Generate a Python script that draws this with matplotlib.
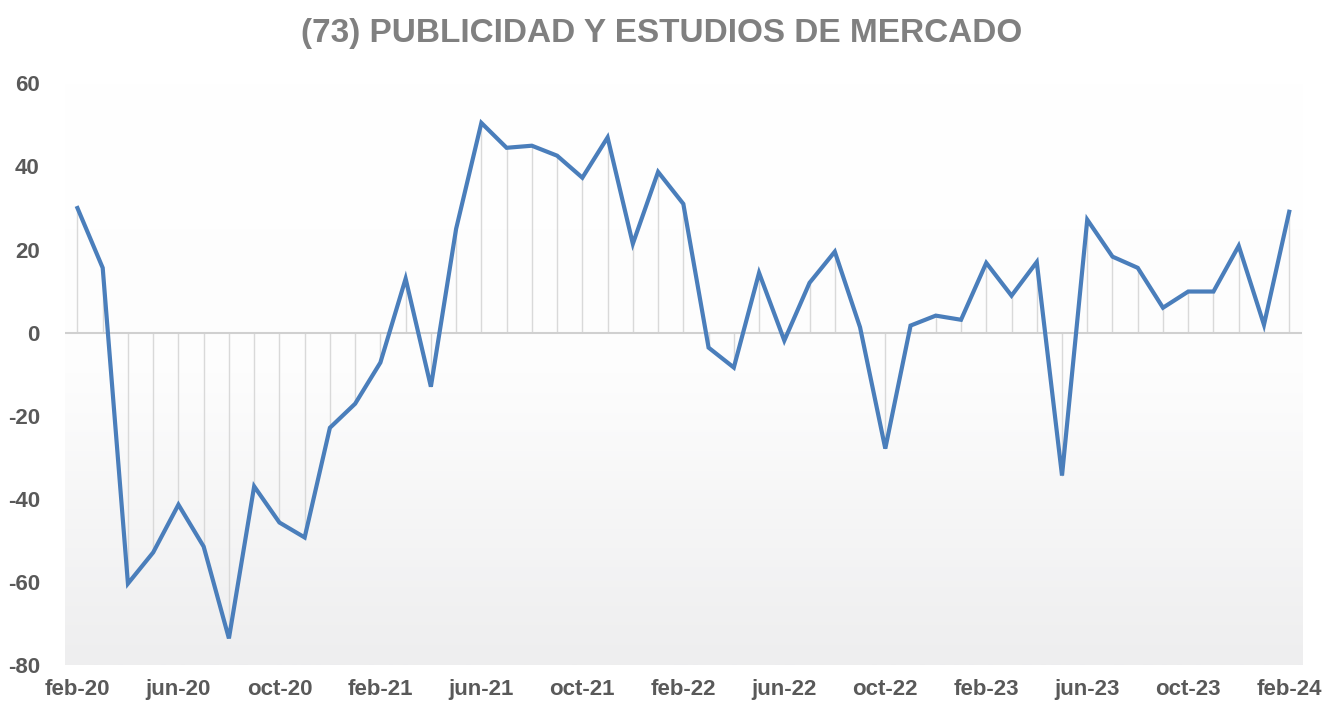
import matplotlib.pyplot as plt
import numpy as np

meses = ['ene', 'feb', 'mar', 'abr', 'may', 'jun', 'jul', 'ago', 'sep', 'oct', 'nov', 'dic']
# feb-20 .. feb-24
fechas = [meses[(1 + i) % 12] + '-' + str(20 + (1 + i) // 12) for i in range(49)]
valores = [30, 15.6, -60.4, -52.9, -41.4, -51.5, -73.6, -37, -45.7, -49.3,
           -22.9, -17.1, -7.2, 13, -13, 25, 50.5, 44.5, 45, 42.6,
           37.3, 47, 21.4, 38.7, 31, -3.6, -8.4, 14.4, -1.9, 12,
           19.5, 1.3, -27.9, 1.7, 4.1, 3.1, 16.8, 8.9, 17, -34.4,
           27.2, 18.3, 15.6, 6, 9.9, 9.9, 20.9, 1.9, 29.1]

plt.rcParams['font.family'] = ['Liberation Sans Narrow', 'Liberation Sans', 'DejaVu Sans']
plt.rcParams['axes.unicode_minus'] = False

fig = plt.figure(figsize=(13.23, 7.11), dpi=100)
ax = fig.add_axes([0.049, 0.0647, 0.935, 0.818])

x = np.arange(len(valores))

# fondo degradado (blanco arriba, gris claro abajo)
grad = np.linspace(0, 1, 256).reshape(-1, 1)
ax.imshow(grad, extent=[0, 1, 0, 1], transform=ax.transAxes, aspect='auto',
          cmap=plt.matplotlib.colors.LinearSegmentedColormap.from_list('g', ['#ffffff', '#fdfdfd', '#eeeeef']),
          vmin=0, vmax=1, zorder=0)

ax.vlines(x, 0, valores, color='#d9d9d9', linewidth=1, zorder=1)
ax.axhline(0, color='#d0d0d0', linewidth=1.5, zorder=1)
ax.plot(x, valores, color='#4a7ebb', linewidth=3, zorder=3, solid_joinstyle='miter')

ax.set_xlim(-0.5, 48.5)
ax.set_ylim(-80, 60)
ax.set_yticks(range(-80, 61, 20))
ax.set_xticks(x[::4])
ax.set_xticklabels(fechas[::4])
ax.tick_params(length=0, labelsize=16, colors='#595959', pad=10)
ax.tick_params(axis='y', pad=18)
for lab in ax.get_xticklabels() + ax.get_yticklabels():
    lab.set_fontweight('bold')
for s in ax.spines.values():
    s.set_visible(False)

fig.suptitle('(73) PUBLICIDAD Y ESTUDIOS DE MERCADO', y=0.975, fontsize=24,
             fontweight='bold', color='#808080')

fig.savefig('out.png')
